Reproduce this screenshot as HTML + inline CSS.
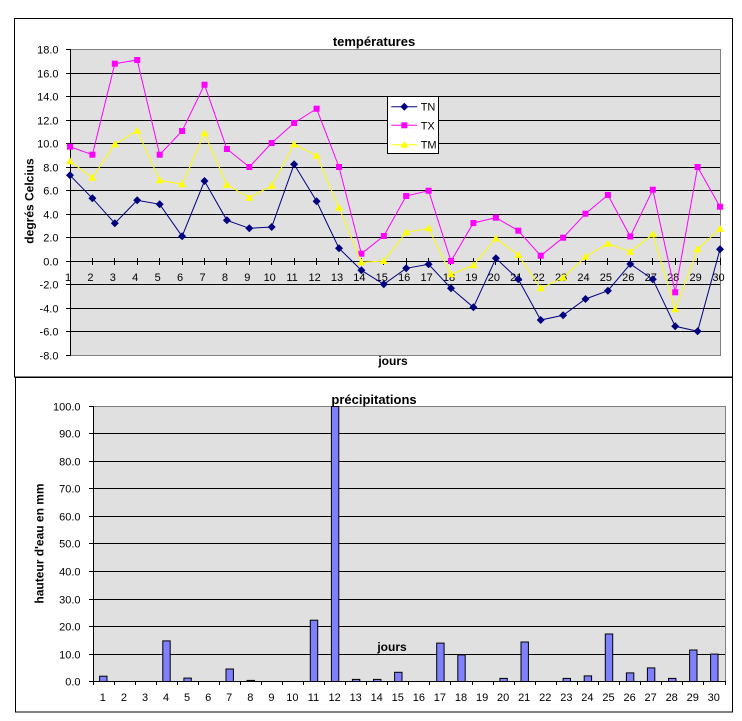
<!DOCTYPE html>
<html><head><meta charset="utf-8"><style>
html,body{margin:0;padding:0;background:#fff;}
svg{display:block;}
text{font-family:"Liberation Sans",Arial,sans-serif;fill:#000;}
</style></head><body>
<svg width="742" height="721" viewBox="0 0 742 721" xmlns="http://www.w3.org/2000/svg">
<rect x="0" y="0" width="742" height="721" fill="#fff"/>
<!-- frames -->
<rect x="14.5" y="18.5" width="718" height="358.5" fill="#fff" stroke="#000" stroke-width="1"/>
<rect x="15.5" y="377.5" width="717" height="334.5" fill="#fff" stroke="#000" stroke-width="1"/>

<!-- ===== TOP CHART ===== -->
<rect x="70.5" y="49.5" width="650" height="306" fill="#e0e0e0"/>
<g stroke="#000" stroke-width="1" shape-rendering="crispEdges">
<line x1="70" y1="73.5" x2="720.5" y2="73.5"/>
<line x1="70" y1="96.5" x2="720.5" y2="96.5"/>
<line x1="70" y1="120.5" x2="720.5" y2="120.5"/>
<line x1="70" y1="143.5" x2="720.5" y2="143.5"/>
<line x1="70" y1="167.5" x2="720.5" y2="167.5"/>
<line x1="70" y1="190.5" x2="720.5" y2="190.5"/>
<line x1="70" y1="214.5" x2="720.5" y2="214.5"/>
<line x1="70" y1="237.5" x2="720.5" y2="237.5"/>
<line x1="70" y1="261.5" x2="720.5" y2="261.5"/>
<line x1="70" y1="284.5" x2="720.5" y2="284.5"/>
<line x1="70" y1="308.5" x2="720.5" y2="308.5"/>
<line x1="70" y1="331.5" x2="720.5" y2="331.5"/>
</g>
<g stroke="#808080" stroke-width="1" shape-rendering="crispEdges" fill="none">
<polyline points="70.5,49.5 720.5,49.5 720.5,355.5 70.5,355.5"/>
</g>
<g stroke="#000" stroke-width="1" shape-rendering="crispEdges">
<line x1="70.5" y1="49" x2="70.5" y2="356"/>
<!-- y ticks -->
<line x1="66" y1="49.5" x2="70" y2="49.5"/>
<line x1="66" y1="73.5" x2="70" y2="73.5"/>
<line x1="66" y1="96.5" x2="70" y2="96.5"/>
<line x1="66" y1="120.5" x2="70" y2="120.5"/>
<line x1="66" y1="143.5" x2="70" y2="143.5"/>
<line x1="66" y1="167.5" x2="70" y2="167.5"/>
<line x1="66" y1="190.5" x2="70" y2="190.5"/>
<line x1="66" y1="214.5" x2="70" y2="214.5"/>
<line x1="66" y1="237.5" x2="70" y2="237.5"/>
<line x1="66" y1="261.5" x2="70" y2="261.5"/>
<line x1="66" y1="284.5" x2="70" y2="284.5"/>
<line x1="66" y1="308.5" x2="70" y2="308.5"/>
<line x1="66" y1="331.5" x2="70" y2="331.5"/>
<line x1="66" y1="355.5" x2="70" y2="355.5"/>
<!-- x ticks -->
<line x1="92.5" y1="258" x2="92.5" y2="265"/>
<line x1="114.5" y1="258" x2="114.5" y2="265"/>
<line x1="137.5" y1="258" x2="137.5" y2="265"/>
<line x1="159.5" y1="258" x2="159.5" y2="265"/>
<line x1="182.5" y1="258" x2="182.5" y2="265"/>
<line x1="204.5" y1="258" x2="204.5" y2="265"/>
<line x1="226.5" y1="258" x2="226.5" y2="265"/>
<line x1="249.5" y1="258" x2="249.5" y2="265"/>
<line x1="271.5" y1="258" x2="271.5" y2="265"/>
<line x1="294.5" y1="258" x2="294.5" y2="265"/>
<line x1="316.5" y1="258" x2="316.5" y2="265"/>
<line x1="338.5" y1="258" x2="338.5" y2="265"/>
<line x1="361.5" y1="258" x2="361.5" y2="265"/>
<line x1="383.5" y1="258" x2="383.5" y2="265"/>
<line x1="406.5" y1="258" x2="406.5" y2="265"/>
<line x1="428.5" y1="258" x2="428.5" y2="265"/>
<line x1="450.5" y1="258" x2="450.5" y2="265"/>
<line x1="473.5" y1="258" x2="473.5" y2="265"/>
<line x1="495.5" y1="258" x2="495.5" y2="265"/>
<line x1="518.5" y1="258" x2="518.5" y2="265"/>
<line x1="540.5" y1="258" x2="540.5" y2="265"/>
<line x1="562.5" y1="258" x2="562.5" y2="265"/>
<line x1="585.5" y1="258" x2="585.5" y2="265"/>
<line x1="607.5" y1="258" x2="607.5" y2="265"/>
<line x1="630.5" y1="258" x2="630.5" y2="265"/>
<line x1="652.5" y1="258" x2="652.5" y2="265"/>
<line x1="675.5" y1="258" x2="675.5" y2="265"/>
<line x1="697.5" y1="258" x2="697.5" y2="265"/>
<line x1="720.5" y1="258" x2="720.5" y2="265"/>
</g>

<!-- y labels top -->
<g font-size="11" text-anchor="end">
<text x="58.5" y="53.5">18.0</text>
<text x="58.5" y="77.5">16.0</text>
<text x="58.5" y="100.5">14.0</text>
<text x="58.5" y="124.5">12.0</text>
<text x="58.5" y="147.5">10.0</text>
<text x="58.5" y="171.5">8.0</text>
<text x="58.5" y="194.5">6.0</text>
<text x="58.5" y="218.5">4.0</text>
<text x="58.5" y="241.5">2.0</text>
<text x="58.5" y="265.5">0.0</text>
<text x="58.5" y="288.5">-2.0</text>
<text x="58.5" y="312.5">-4.0</text>
<text x="58.5" y="335.5">-6.0</text>
<text x="58.5" y="359.5">-8.0</text>
</g>
<!-- x labels top -->
<g font-size="11" text-anchor="middle">
<text x="68" y="281">1</text>
<text x="90.4" y="281">2</text>
<text x="112.8" y="281">3</text>
<text x="135.2" y="281">4</text>
<text x="157.7" y="281">5</text>
<text x="180.1" y="281">6</text>
<text x="202.5" y="281">7</text>
<text x="224.9" y="281">8</text>
<text x="247.3" y="281">9</text>
<text x="269.7" y="281">10</text>
<text x="292.1" y="281">11</text>
<text x="314.6" y="281">12</text>
<text x="337" y="281">13</text>
<text x="359.4" y="281">14</text>
<text x="381.8" y="281">15</text>
<text x="404.2" y="281">16</text>
<text x="426.6" y="281">17</text>
<text x="449" y="281">18</text>
<text x="471.4" y="281">19</text>
<text x="493.9" y="281">20</text>
<text x="516.3" y="281">21</text>
<text x="538.7" y="281">22</text>
<text x="561.1" y="281">23</text>
<text x="583.5" y="281">24</text>
<text x="605.9" y="281">25</text>
<text x="628.3" y="281">26</text>
<text x="650.8" y="281">27</text>
<text x="673.2" y="281">28</text>
<text x="695.6" y="281">29</text>
<text x="718.5" y="281">30</text>
</g>

<!-- titles top -->
<text x="374" y="46" font-size="13" font-weight="bold" text-anchor="middle">températures</text>
<text x="393" y="365" font-size="12" font-weight="bold" text-anchor="middle">jours</text>
<text transform="translate(33.5,201) rotate(-90)" font-size="12" font-weight="bold" text-anchor="middle">degrés Celcius</text>

<!-- series TN -->
<polyline fill="none" stroke="#000080" stroke-width="1" points="70,175.3 92.4,198.3 114.8,223.3 137.2,200.3 159.7,204.3 182.1,236.3 204.5,181 226.9,220.3 249.3,228.3 271.7,227 294.1,164.3 316.6,201.3 339,248.3 361.4,270.3 383.8,284.3 406.2,268.3 428.6,264.3 451,288.3 473.4,307.3 495.9,258.3 518.3,279.3 540.7,320 563.1,315.3 585.5,299 607.9,290.7 630.3,264 652.8,279.3 675.2,326.3 697.6,331.3 720,249.3"/>
<g fill="#000080">
<path d="M70,171.3l4,4l-4,4l-4,-4z"/>
<path d="M92.4,194.3l4,4l-4,4l-4,-4z"/>
<path d="M114.8,219.3l4,4l-4,4l-4,-4z"/>
<path d="M137.2,196.3l4,4l-4,4l-4,-4z"/>
<path d="M159.7,200.3l4,4l-4,4l-4,-4z"/>
<path d="M182.1,232.3l4,4l-4,4l-4,-4z"/>
<path d="M204.5,177l4,4l-4,4l-4,-4z"/>
<path d="M226.9,216.3l4,4l-4,4l-4,-4z"/>
<path d="M249.3,224.3l4,4l-4,4l-4,-4z"/>
<path d="M271.7,223l4,4l-4,4l-4,-4z"/>
<path d="M294.1,160.3l4,4l-4,4l-4,-4z"/>
<path d="M316.6,197.3l4,4l-4,4l-4,-4z"/>
<path d="M339,244.3l4,4l-4,4l-4,-4z"/>
<path d="M361.4,266.3l4,4l-4,4l-4,-4z"/>
<path d="M383.8,280.3l4,4l-4,4l-4,-4z"/>
<path d="M406.2,264.3l4,4l-4,4l-4,-4z"/>
<path d="M428.6,260.3l4,4l-4,4l-4,-4z"/>
<path d="M451,284.3l4,4l-4,4l-4,-4z"/>
<path d="M473.4,303.3l4,4l-4,4l-4,-4z"/>
<path d="M495.9,254.3l4,4l-4,4l-4,-4z"/>
<path d="M518.3,275.3l4,4l-4,4l-4,-4z"/>
<path d="M540.7,316l4,4l-4,4l-4,-4z"/>
<path d="M563.1,311.3l4,4l-4,4l-4,-4z"/>
<path d="M585.5,295l4,4l-4,4l-4,-4z"/>
<path d="M607.9,286.7l4,4l-4,4l-4,-4z"/>
<path d="M630.3,260l4,4l-4,4l-4,-4z"/>
<path d="M652.8,275.3l4,4l-4,4l-4,-4z"/>
<path d="M675.2,322.3l4,4l-4,4l-4,-4z"/>
<path d="M697.6,327.3l4,4l-4,4l-4,-4z"/>
<path d="M720,245.3l4,4l-4,4l-4,-4z"/>
</g>

<!-- series TX -->
<polyline fill="none" stroke="#ff00ff" stroke-width="1" points="70,146.7 92.4,154.7 114.8,63.7 137.2,60 159.7,154.7 182.1,131 204.5,84.7 226.9,149 249.3,167 271.7,143 294.1,123 316.6,108.7 339,167 361.4,253.7 383.8,236 406.2,196 428.6,190.7 451,261 473.4,223 495.9,217.7 518.3,230.7 540.7,255.7 563.1,237.7 585.5,213.7 607.9,195 630.3,236.5 652.8,189.7 675.2,292.3 697.6,167 720,206.7"/>
<g fill="#ff00ff">
<rect x="67" y="143.7" width="6" height="6"/>
<rect x="89.4" y="151.7" width="6" height="6"/>
<rect x="111.8" y="60.7" width="6" height="6"/>
<rect x="134.2" y="57" width="6" height="6"/>
<rect x="156.7" y="151.7" width="6" height="6"/>
<rect x="179.1" y="128" width="6" height="6"/>
<rect x="201.5" y="81.7" width="6" height="6"/>
<rect x="223.9" y="146" width="6" height="6"/>
<rect x="246.3" y="164" width="6" height="6"/>
<rect x="268.7" y="140" width="6" height="6"/>
<rect x="291.1" y="120" width="6" height="6"/>
<rect x="313.6" y="105.7" width="6" height="6"/>
<rect x="336" y="164" width="6" height="6"/>
<rect x="358.4" y="250.7" width="6" height="6"/>
<rect x="380.8" y="233" width="6" height="6"/>
<rect x="403.2" y="193" width="6" height="6"/>
<rect x="425.6" y="187.7" width="6" height="6"/>
<rect x="448" y="258" width="6" height="6"/>
<rect x="470.4" y="220" width="6" height="6"/>
<rect x="492.9" y="214.7" width="6" height="6"/>
<rect x="515.3" y="227.7" width="6" height="6"/>
<rect x="537.7" y="252.7" width="6" height="6"/>
<rect x="560.1" y="234.7" width="6" height="6"/>
<rect x="582.5" y="210.7" width="6" height="6"/>
<rect x="604.9" y="192" width="6" height="6"/>
<rect x="627.3" y="233.5" width="6" height="6"/>
<rect x="649.8" y="186.7" width="6" height="6"/>
<rect x="672.2" y="289.3" width="6" height="6"/>
<rect x="694.6" y="164" width="6" height="6"/>
<rect x="717" y="203.7" width="6" height="6"/>
</g>

<!-- series TM -->
<polyline fill="none" stroke="#ffff00" stroke-width="1" points="70,161.3 92.4,177.7 114.8,144.3 137.2,130.7 159.7,180.3 182.1,184.3 204.5,133.3 226.9,184.7 249.3,197.7 271.7,185.7 294.1,144.3 316.6,155.7 339,207.7 361.4,262.3 383.8,261 406.2,232.3 428.6,228.3 451,274.3 473.4,265.3 495.9,238.3 518.3,255 540.7,288.3 563.1,277.7 585.5,256.7 607.9,243.7 630.3,251.7 652.8,234.3 675.2,309.3 697.6,249.3 720,228.7"/>
<g fill="#ffff00">
<path d="M70,157.3l4,7h-8z"/>
<path d="M92.4,173.7l4,7h-8z"/>
<path d="M114.8,140.3l4,7h-8z"/>
<path d="M137.2,126.7l4,7h-8z"/>
<path d="M159.7,176.3l4,7h-8z"/>
<path d="M182.1,180.3l4,7h-8z"/>
<path d="M204.5,129.3l4,7h-8z"/>
<path d="M226.9,180.7l4,7h-8z"/>
<path d="M249.3,193.7l4,7h-8z"/>
<path d="M271.7,181.7l4,7h-8z"/>
<path d="M294.1,140.3l4,7h-8z"/>
<path d="M316.6,151.7l4,7h-8z"/>
<path d="M339,203.7l4,7h-8z"/>
<path d="M361.4,258.3l4,7h-8z"/>
<path d="M383.8,257l4,7h-8z"/>
<path d="M406.2,228.3l4,7h-8z"/>
<path d="M428.6,224.3l4,7h-8z"/>
<path d="M451,270.3l4,7h-8z"/>
<path d="M473.4,261.3l4,7h-8z"/>
<path d="M495.9,234.3l4,7h-8z"/>
<path d="M518.3,251l4,7h-8z"/>
<path d="M540.7,284.3l4,7h-8z"/>
<path d="M563.1,273.7l4,7h-8z"/>
<path d="M585.5,252.7l4,7h-8z"/>
<path d="M607.9,239.7l4,7h-8z"/>
<path d="M630.3,247.7l4,7h-8z"/>
<path d="M652.8,230.3l4,7h-8z"/>
<path d="M675.2,305.3l4,7h-8z"/>
<path d="M697.6,245.3l4,7h-8z"/>
<path d="M720,224.7l4,7h-8z"/>
</g>

<!-- legend -->
<rect x="387.5" y="96.5" width="51" height="57" fill="#fff" stroke="#000" stroke-width="1" shape-rendering="crispEdges"/>
<line x1="391.3" y1="106.7" x2="417.3" y2="106.7" stroke="#000080" stroke-width="1"/>
<path d="M404.3,102.7l4,4l-4,4l-4,-4z" fill="#000080"/>
<line x1="391.3" y1="125.3" x2="417.3" y2="125.3" stroke="#ff00ff" stroke-width="1"/>
<rect x="401.3" y="122.3" width="6" height="6" fill="#ff00ff"/>
<line x1="391.3" y1="144.7" x2="417.3" y2="144.7" stroke="#ffff00" stroke-width="1"/>
<path d="M404.3,140.7l4,7h-8z" fill="#ffff00"/>
<g font-size="11">
<text x="420.7" y="110.7">TN</text>
<text x="420.7" y="129.3">TX</text>
<text x="420.7" y="148.7">TM</text>
</g>

<!-- ===== BOTTOM CHART ===== -->
<rect x="93.5" y="406.5" width="632" height="275" fill="#e0e0e0"/>
<g stroke="#000" stroke-width="1" shape-rendering="crispEdges">
<line x1="93" y1="433.5" x2="725.5" y2="433.5"/>
<line x1="93" y1="461.5" x2="725.5" y2="461.5"/>
<line x1="93" y1="488.5" x2="725.5" y2="488.5"/>
<line x1="93" y1="516.5" x2="725.5" y2="516.5"/>
<line x1="93" y1="543.5" x2="725.5" y2="543.5"/>
<line x1="93" y1="571.5" x2="725.5" y2="571.5"/>
<line x1="93" y1="599.5" x2="725.5" y2="599.5"/>
<line x1="93" y1="626.5" x2="725.5" y2="626.5"/>
<line x1="93" y1="654.5" x2="725.5" y2="654.5"/>
</g>
<polyline points="93.5,406.5 725.5,406.5 725.5,681.5" fill="none" stroke="#808080" stroke-width="1" shape-rendering="crispEdges"/>

<!-- bars -->
<g fill="#8080ff" stroke="#000" stroke-width="1">
<rect x="99.6" y="676.2" width="7.4" height="5.3"/>
<rect x="162.8" y="640.9" width="7.4" height="40.6"/>
<rect x="183.9" y="678.1" width="7.4" height="3.4"/>
<rect x="226" y="669" width="7.4" height="12.5"/>
<rect x="247.1" y="680.4" width="7.4" height="1.1"/>
<rect x="310.3" y="620.2" width="7.4" height="61.3"/>
<rect x="331.4" y="406.5" width="7.4" height="275"/>
<rect x="352.4" y="679.4" width="7.4" height="2.1"/>
<rect x="373.5" y="679.4" width="7.4" height="2.1"/>
<rect x="394.6" y="672.3" width="7.4" height="9.2"/>
<rect x="436.7" y="643.1" width="7.4" height="38.4"/>
<rect x="457.8" y="654.9" width="7.4" height="26.6"/>
<rect x="499.9" y="678.4" width="7.4" height="3.1"/>
<rect x="521" y="642" width="7.4" height="39.5"/>
<rect x="563.1" y="678.4" width="7.4" height="3.1"/>
<rect x="584.2" y="675.9" width="7.4" height="5.6"/>
<rect x="605.3" y="634" width="7.4" height="47.5"/>
<rect x="626.4" y="672.9" width="7.4" height="8.6"/>
<rect x="647.4" y="667.9" width="7.4" height="13.6"/>
<rect x="668.5" y="678.4" width="7.4" height="3.1"/>
<rect x="689.6" y="650" width="7.4" height="31.5"/>
<rect x="710.6" y="654.1" width="7.4" height="27.4"/>
</g>

<g stroke="#000" stroke-width="1" shape-rendering="crispEdges">
<line x1="93.5" y1="406" x2="93.5" y2="682"/>
<line x1="93" y1="681.5" x2="726" y2="681.5"/>
<!-- y ticks -->
<line x1="89" y1="406.5" x2="93" y2="406.5"/>
<line x1="89" y1="433.5" x2="93" y2="433.5"/>
<line x1="89" y1="461.5" x2="93" y2="461.5"/>
<line x1="89" y1="488.5" x2="93" y2="488.5"/>
<line x1="89" y1="516.5" x2="93" y2="516.5"/>
<line x1="89" y1="543.5" x2="93" y2="543.5"/>
<line x1="89" y1="571.5" x2="93" y2="571.5"/>
<line x1="89" y1="599.5" x2="93" y2="599.5"/>
<line x1="89" y1="626.5" x2="93" y2="626.5"/>
<line x1="89" y1="654.5" x2="93" y2="654.5"/>
<line x1="89" y1="681.5" x2="93" y2="681.5"/>
<!-- x ticks -->
<line x1="93.5" y1="681" x2="93.5" y2="685"/>
<line x1="114.5" y1="681" x2="114.5" y2="685"/>
<line x1="135.5" y1="681" x2="135.5" y2="685"/>
<line x1="156.5" y1="681" x2="156.5" y2="685"/>
<line x1="177.5" y1="681" x2="177.5" y2="685"/>
<line x1="198.5" y1="681" x2="198.5" y2="685"/>
<line x1="219.5" y1="681" x2="219.5" y2="685"/>
<line x1="240.5" y1="681" x2="240.5" y2="685"/>
<line x1="261.5" y1="681" x2="261.5" y2="685"/>
<line x1="282.5" y1="681" x2="282.5" y2="685"/>
<line x1="303.5" y1="681" x2="303.5" y2="685"/>
<line x1="324.5" y1="681" x2="324.5" y2="685"/>
<line x1="345.5" y1="681" x2="345.5" y2="685"/>
<line x1="366.5" y1="681" x2="366.5" y2="685"/>
<line x1="387.5" y1="681" x2="387.5" y2="685"/>
<line x1="408.5" y1="681" x2="408.5" y2="685"/>
<line x1="429.5" y1="681" x2="429.5" y2="685"/>
<line x1="450.5" y1="681" x2="450.5" y2="685"/>
<line x1="472.5" y1="681" x2="472.5" y2="685"/>
<line x1="493.5" y1="681" x2="493.5" y2="685"/>
<line x1="514.5" y1="681" x2="514.5" y2="685"/>
<line x1="535.5" y1="681" x2="535.5" y2="685"/>
<line x1="556.5" y1="681" x2="556.5" y2="685"/>
<line x1="577.5" y1="681" x2="577.5" y2="685"/>
<line x1="598.5" y1="681" x2="598.5" y2="685"/>
<line x1="619.5" y1="681" x2="619.5" y2="685"/>
<line x1="640.5" y1="681" x2="640.5" y2="685"/>
<line x1="661.5" y1="681" x2="661.5" y2="685"/>
<line x1="682.5" y1="681" x2="682.5" y2="685"/>
<line x1="703.5" y1="681" x2="703.5" y2="685"/>
<line x1="725.5" y1="681" x2="725.5" y2="685"/>
</g>

<!-- y labels bottom -->
<g font-size="11" text-anchor="end">
<text x="80.5" y="410.5">100.0</text>
<text x="80.5" y="437.5">90.0</text>
<text x="80.5" y="465.5">80.0</text>
<text x="80.5" y="492.5">70.0</text>
<text x="80.5" y="520.5">60.0</text>
<text x="80.5" y="547.5">50.0</text>
<text x="80.5" y="575.5">40.0</text>
<text x="80.5" y="603.5">30.0</text>
<text x="80.5" y="630.5">20.0</text>
<text x="80.5" y="658.5">10.0</text>
<text x="80.5" y="685.5">0.0</text>
</g>
<!-- x labels bottom -->
<g font-size="11" text-anchor="middle">
<text x="102.8" y="701">1</text>
<text x="123.9" y="701">2</text>
<text x="145" y="701">3</text>
<text x="166" y="701">4</text>
<text x="187.1" y="701">5</text>
<text x="208.2" y="701">6</text>
<text x="229.2" y="701">7</text>
<text x="250.3" y="701">8</text>
<text x="271.4" y="701">9</text>
<text x="292.4" y="701">10</text>
<text x="313.5" y="701">11</text>
<text x="334.6" y="701">12</text>
<text x="355.7" y="701">13</text>
<text x="376.7" y="701">14</text>
<text x="397.8" y="701">15</text>
<text x="418.9" y="701">16</text>
<text x="439.9" y="701">17</text>
<text x="461" y="701">18</text>
<text x="482.1" y="701">19</text>
<text x="503.1" y="701">20</text>
<text x="524.2" y="701">21</text>
<text x="545.3" y="701">22</text>
<text x="566.4" y="701">23</text>
<text x="587.4" y="701">24</text>
<text x="608.5" y="701">25</text>
<text x="629.6" y="701">26</text>
<text x="650.6" y="701">27</text>
<text x="671.7" y="701">28</text>
<text x="692.8" y="701">29</text>
<text x="713.8" y="701">30</text>
</g>

<text x="374" y="404" font-size="13" font-weight="bold" text-anchor="middle">précipitations</text>
<text x="392" y="651" font-size="12" font-weight="bold" text-anchor="middle">jours</text>
<text transform="translate(43.5,543.5) rotate(-90)" font-size="12" font-weight="bold" text-anchor="middle">hauteur d'eau en mm</text>
</svg>
</body></html>
